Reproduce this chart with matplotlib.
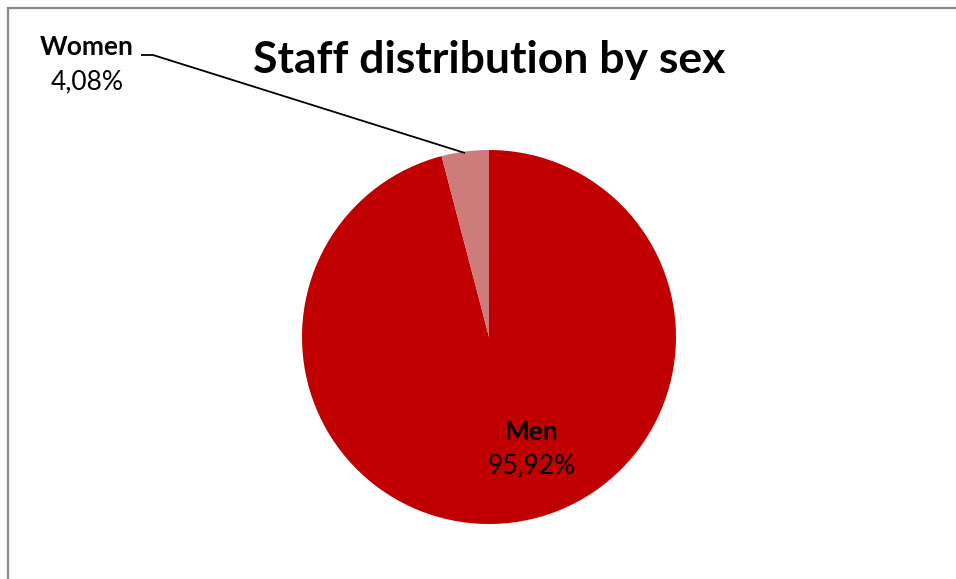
import matplotlib.pyplot as plt
from matplotlib.patches import Rectangle

labels = ["Men", "Women"]
shares = [95.92, 4.08]
colors = ["#C00000", "#CD7B7B"]
title = "Staff distribution by sex"

W, H = 956, 579


def fmt(v):
    return f"{v:.2f}%".replace(".", ",")


def main():
    plt.rcParams['font.family'] = ['Lato', 'DejaVu Sans']
    fig = plt.figure(figsize=(W / 100, H / 100), dpi=100)
    ax = fig.add_axes([0, 0, 1, 1])

    ax.pie(shares, colors=colors, startangle=90, counterclock=False,
           center=(489, H - 337), radius=187,
           wedgeprops=dict(linewidth=0))

    # pie() resets the view, so pin it to pixel units afterwards
    ax.set_xlim(0, W)
    ax.set_ylim(0, H)
    ax.set_aspect('equal')
    ax.axis('off')

    # chart area frame (runs off the right and bottom edges)
    ax.add_patch(Rectangle((8.5, -20), W + 40, H - 8 + 20, fill=False,
                           edgecolor="#888888", linewidth=1.6))

    ax.text(489, H - 60, title, ha='center', va='center',
            fontsize=32, fontweight='bold')

    # Men label inside its slice
    ax.text(532, H - 432, labels[0], ha='center', va='center',
            fontsize=19, fontweight='bold')
    ax.text(532, H - 466, fmt(shares[0]), ha='center', va='center',
            fontsize=19)

    # Women label outside with leader line
    ax.text(87, H - 47, labels[1], ha='center', va='center',
            fontsize=19, fontweight='bold')
    ax.text(87, H - 82, fmt(shares[1]), ha='center', va='center',
            fontsize=19)
    ax.plot([141, 153, 465], [H - 55, H - 55, H - 153], color='black',
            linewidth=1.3, solid_capstyle='butt')

    fig.savefig("out.png", dpi=100)
    plt.close(fig)


if __name__ == "__main__":
    main()
